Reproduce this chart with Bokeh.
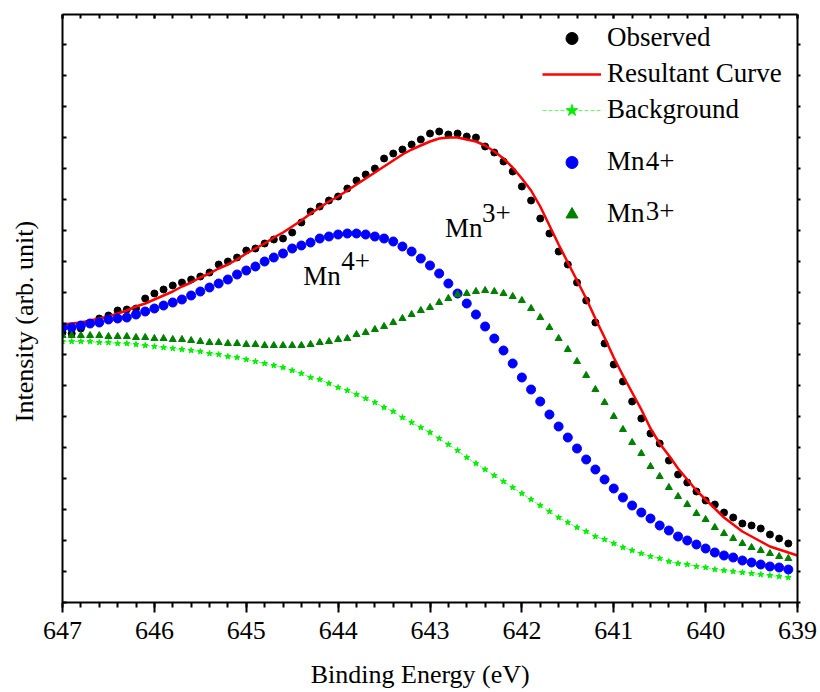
import numpy as np
from bokeh.plotting import figure
from bokeh.models import (Range1d, LinearAxis, SingleIntervalTicker, CustomJSTickFormatter,
                          Legend, LegendItem, Label)
from bokeh.embed import file_html
from bokeh.resources import INLINE

FONT = "Liberation Serif"
NBSP = "\u00a0"

# Binding energy of the measured points (eV), 647.0 down to 639.1 in 0.1 eV steps
energy_pts = np.round(np.linspace(647.0, 639.1, 80), 1)
# Binding energy of the fitted envelope, 647.0 down to 639.0
energy_fit = np.round(np.linspace(647.0, 639.0, 81), 1)

# Intensities (arb. unit)
observed = [270, 269, 274, 279, 284, 287, 292, 293, 294, 304,
            309, 313, 317, 320, 323, 326, 330, 338, 341, 345,
            352, 354, 359, 363, 364, 370, 380, 391, 396, 402,
            406, 414, 422, 428, 434, 444, 449, 453, 458, 463,
            469, 471, 468, 469, 466, 465, 456, 450, 441, 431,
            416, 402, 384, 369, 351, 338, 320, 302, 280, 259,
            238, 221, 201, 184, 169, 159, 142, 128, 120, 111,
            102, 98, 90, 85, 79, 77, 74, 68, 64, 59]

resultant = [278, 279, 280, 282, 284, 286, 289, 292, 296, 299,
             303, 307, 311, 316, 320, 325, 329, 334, 338, 343,
             349, 354, 359, 365, 370, 376, 382, 389, 395, 401,
             406, 412, 418, 424, 430, 436, 442, 448, 453, 457,
             461, 464, 465, 465, 463, 461, 457, 451, 444, 435,
             424, 412, 396, 377, 358, 340, 322, 304, 284, 265,
             245, 227, 210, 193, 174, 159, 147, 134, 123, 112,
             103, 94, 85, 78, 71, 66, 61, 56, 53, 50, 47]

background = [261, 261, 261, 261, 260, 260, 259, 259, 258, 257,
              256, 255, 254, 253, 252, 251, 249, 248, 246, 245,
              243, 241, 239, 237, 235, 232, 229, 225, 223, 219,
              215, 212, 208, 204, 200, 195, 191, 185, 180, 175,
              170, 164, 158, 152, 145, 139, 133, 127, 121, 115,
              109, 103, 97, 91, 85, 80, 75, 71, 66, 63,
              59, 55, 52, 49, 46, 44, 41, 39, 38, 36,
              35, 33, 32, 31, 30, 29, 28, 27, 26, 25]

mn4 = [275, 275, 277, 279, 280, 283, 284, 285, 288, 291,
       294, 297, 300, 303, 307, 311, 315, 319, 323, 328,
       332, 336, 341, 345, 349, 354, 357, 360, 364, 366,
       368, 369, 369, 368, 366, 364, 361, 356, 351, 344,
       337, 329, 319, 309, 299, 288, 276, 264, 252, 239,
       225, 213, 201, 188, 176, 165, 154, 143, 133, 123,
       114, 105, 97, 90, 84, 77, 72, 66, 62, 58,
       54, 50, 47, 45, 42, 40, 38, 36, 35, 33]

mn3 = [267, 267, 267, 267, 267, 266, 266, 266, 265, 265,
       264, 264, 263, 263, 262, 261, 260, 260, 259, 259,
       258, 258, 257, 257, 257, 257, 257, 258, 260, 261,
       263, 264, 268, 270, 273, 276, 280, 284, 288, 292,
       295, 300, 304, 308, 309, 311, 312, 311, 309, 306,
       302, 294, 285, 275, 264, 253, 241, 227, 213, 200,
       186, 173, 160, 149, 136, 126, 115, 106, 98, 89,
       83, 75, 69, 64, 59, 55, 52, 49, 46, 44]

p = figure(width=820, height=692, output_backend="svg", toolbar_location=None,
           x_range=Range1d(647, 639), y_range=Range1d(0, 588),
           x_axis_location=None, y_axis_location=None,
           min_border_left=62, min_border_right=23, min_border_top=14, min_border_bottom=90)
p.outline_line_color = None
p.grid.visible = False
p.background_fill_color = "white"
p.border_fill_color = "white"

blank = CustomJSTickFormatter(code="return ''")


def frame_axis(ax):
    ax.axis_line_width = 2
    ax.axis_line_color = "black"
    ax.major_tick_line_width = 2
    ax.minor_tick_line_width = 2
    ax.major_tick_line_color = "black"
    ax.minor_tick_line_color = "black"
    return ax


# bottom axis with tick labels and title
xb = frame_axis(LinearAxis(ticker=SingleIntervalTicker(interval=1, num_minor_ticks=5),
                           axis_label="Binding Energy (eV)" + NBSP * 3))
xb.major_tick_out = 10
xb.major_tick_in = 0
xb.minor_tick_out = 5
xb.minor_tick_in = 0
xb.major_label_text_font = FONT
xb.major_label_text_font_size = "26px"
xb.major_label_text_color = "black"
xb.major_label_standoff = 9
xb.axis_label_text_font = FONT
xb.axis_label_text_font_size = "26px"
xb.axis_label_text_font_style = "normal"
xb.axis_label_text_color = "black"
xb.axis_label_standoff = 18
p.add_layout(xb, "below")

# top axis: ticks only
xt = frame_axis(LinearAxis(ticker=SingleIntervalTicker(interval=1, num_minor_ticks=5),
                           formatter=blank))
xt.major_tick_out = 0
xt.major_tick_in = 4
xt.minor_tick_out = 0
xt.minor_tick_in = 4
xt.major_label_text_font_size = "0px"
xt.major_label_standoff = 0
p.add_layout(xt, "above")

# left axis: unlabelled ticks and title
yl = frame_axis(LinearAxis(ticker=SingleIntervalTicker(interval=31, num_minor_ticks=0),
                           formatter=blank, axis_label="Intensity (arb. unit)" + NBSP * 4))
yl.major_tick_out = 0
yl.major_tick_in = 4
yl.major_label_text_font_size = "0px"
yl.major_label_standoff = 0
yl.axis_label_text_font = FONT
yl.axis_label_text_font_size = "26px"
yl.axis_label_text_font_style = "normal"
yl.axis_label_text_color = "black"
yl.axis_label_standoff = 24
p.add_layout(yl, "left")

# right axis: ticks only
yr = frame_axis(LinearAxis(ticker=SingleIntervalTicker(interval=31, num_minor_ticks=0),
                           formatter=blank))
yr.major_tick_out = 3
yr.major_tick_in = 0
yr.major_label_text_font_size = "0px"
yr.major_label_standoff = 0
p.add_layout(yr, "right")

# data
r_obs = p.scatter(energy_pts, observed, marker="circle", size=7, color="black")
r_fit = p.line(energy_fit, resultant, line_color="#ff0000", line_width=2.5)
r_bg_line = p.line(energy_pts, background, line_color="#66ff66", line_width=1, line_dash="4 2")
r_bg_pts = p.scatter(energy_pts, background, marker="star", size=6, color="#00ee00")
r_mn4 = p.scatter(energy_pts, mn4, marker="circle", size=9, color="#0000ff")
r_mn3 = p.scatter(energy_pts, mn3, marker="triangle", size=7, color="#008000")


def styled_legend(items, loc, spacing):
    lg = Legend(items=items, location=loc)
    lg.border_line_color = None
    lg.background_fill_alpha = 0
    lg.label_text_font = FONT
    lg.label_text_font_size = "27px"
    lg.label_text_color = "black"
    lg.glyph_width = 59
    lg.glyph_height = 30
    lg.label_height = 30
    lg.label_standoff = 6
    lg.spacing = spacing
    lg.margin = 0
    lg.padding = 0
    return lg


legend_a = styled_legend([LegendItem(label="Observed", renderers=[r_obs]),
                          LegendItem(label="Resultant Curve", renderers=[r_fit]),
                          LegendItem(label="Background", renderers=[r_bg_line, r_bg_pts])],
                         (480, 477), 5)
legend_b = styled_legend([LegendItem(label="Mn", renderers=[r_mn4]),
                          LegendItem(label="Mn", renderers=[r_mn3])],
                         (480, 373), 21)
p.add_layout(legend_a)
p.add_layout(legend_b)


def text(x, y, s):
    p.add_layout(Label(x=x, y=y, text=s, text_font=FONT, text_font_size="27px",
                       text_baseline="alphabetic", text_color="black"))


# superscripts of the legend entries
text(640.652, 442, "4+")
text(640.652, 392, "3+")
# peak annotations
text(644.38, 327, "Mn")
text(643.967, 342, "4+")
text(642.837, 375, "Mn")
text(642.435, 390, "3+")

open("out.html", "w").write(file_html(p, INLINE))
